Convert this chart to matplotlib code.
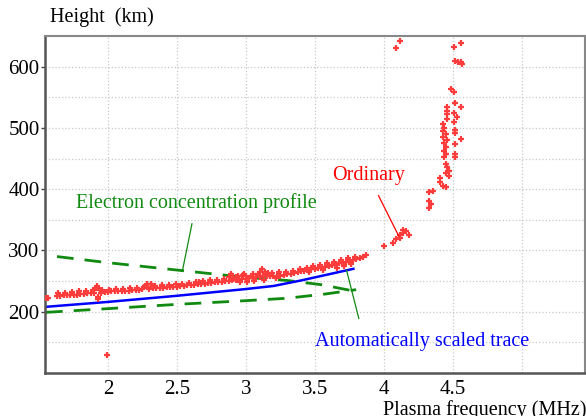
import matplotlib
matplotlib.use("Agg")
import matplotlib.pyplot as plt

plt.rcParams['font.family'] = ['Liberation Serif', 'DejaVu Serif']

# Ordinary trace (red points)
ord_f = [1.550, 1.565,
         1.63, 1.655, 1.68, 1.70, 1.725, 1.75, 1.775, 1.80, 1.825, 1.85, 1.875, 1.90, 1.91, 1.92, 1.925, 1.93, 1.94,
         1.95, 1.975, 2.0, 2.025, 2.05, 2.075, 2.10, 2.125, 2.15, 2.175, 2.20, 2.225, 2.25, 2.27, 2.28, 2.29, 2.30,
         2.31, 2.325, 2.35, 2.375, 2.40, 2.425, 2.45, 2.475, 2.50,
         2.525, 2.55, 2.575, 2.60, 2.625, 2.65, 2.66, 2.675, 2.70, 2.725, 2.75, 2.775, 2.80, 2.825, 2.85, 2.875,
         2.88, 2.89, 2.90, 2.91, 2.925, 2.93, 2.95, 2.96, 2.975, 2.98, 3.0, 3.0, 3.01, 3.025, 3.05, 3.05, 3.06,
         3.075, 3.10, 3.10, 3.12, 3.125, 3.13, 3.15, 3.16, 3.175, 3.20, 3.22, 3.225, 3.25, 3.275, 3.30,
         3.325, 3.35, 3.375, 3.40, 3.425, 3.45, 3.46, 3.475, 3.50, 3.525, 3.55, 3.56, 3.575, 3.60, 3.625, 3.65,
         3.66, 3.675, 3.70, 3.71, 3.725, 3.75, 3.76, 3.775, 3.80, 3.825, 3.85, 3.875,
         4.0, 4.07, 4.09, 4.12, 4.12, 4.14, 4.14, 4.18, 4.16,
         4.33, 4.36, 4.33, 4.34, 4.33,
         4.41, 4.41, 4.43, 4.45, 4.45, 4.46, 4.47, 4.45, 4.47,
         4.44, 4.45, 4.44, 4.43, 4.44, 4.43, 4.45, 4.43, 4.46, 4.44, 4.45,
         4.46, 4.46, 4.46, 4.46,
         4.51, 4.53, 4.51, 4.52, 4.52, 4.52, 4.52, 4.52, 4.56,
         4.49, 4.51, 4.52, 4.56, 4.52, 4.54, 4.56, 4.57, 4.51, 4.56,
         4.09, 4.12,
         1.995]
ord_h = [223, 223,
         226, 226, 227, 227, 227, 228, 228, 229, 229, 230, 231, 231, 238, 242, 224, 221, 235,
         231, 232, 232, 233, 233, 233, 234, 234, 234, 235, 235, 236, 237, 242, 246, 240, 237,
         245, 238, 238, 239, 239, 240, 240, 241, 241,
         242, 242, 243, 243, 244, 245, 249, 245, 246, 247, 247, 248, 249, 249, 250, 250,
         256, 260, 251, 254, 252, 257, 253, 249, 254, 260, 254, 258, 248, 255, 255, 262, 250,
         256, 257, 265, 270, 258, 252, 258, 263, 259, 258, 255, 259, 259, 260, 261,
         262, 263, 265, 266, 267, 268, 264, 269, 270, 271, 272, 268, 273, 274, 276, 277,
         272, 279, 280, 275, 281, 283, 278, 285, 286, 288, 290, 293,
         307, 312, 318, 321, 326, 329, 334, 326, 331,
         395, 397, 381, 376, 370,
         419, 411, 405, 403, 441, 436, 430, 426, 422,
         463, 458, 452, 507, 500, 495, 490, 485, 480, 475, 469,
         534, 528, 522, 515,
         524, 518, 510, 496, 491, 474, 458, 452, 482,
         563, 559, 540, 534, 609, 608, 607, 605, 632, 639,
         631, 641,
         129]

# Second row of the ordinary band (thickness of the trace)
band2_f = [1.64, 1.69, 1.74, 1.79, 1.84, 1.89, 1.96, 2.01, 2.06, 2.11, 2.16, 2.21, 2.26, 2.34, 2.39, 2.44,
           2.49, 2.54, 2.59, 2.64, 2.69, 2.74, 2.79, 2.84, 2.89, 2.94, 2.99, 3.04, 3.09, 3.14, 3.19, 3.24,
           3.29, 3.34, 3.39, 3.44, 3.49, 3.54, 3.59, 3.64, 3.69, 3.74, 3.79]
band2_h = [230, 231, 232, 233, 233, 235, 236, 236, 237, 237, 238, 238, 240, 242, 243, 244,
           245, 246, 247, 248, 250, 251, 252, 253, 262, 258, 262, 259, 261, 264, 263, 264,
           265, 267, 270, 272, 275, 277, 279, 281, 284, 287, 289]

# Automatically scaled trace (blue)
trace_f = [1.55, 2.0, 2.5, 3.0, 3.2, 3.4, 3.6, 3.78]
trace_h = [208, 216, 226, 237, 242, 251, 261, 270]

# Electron concentration profile bounds (green dashed)
upper_f = [1.63, 2.0, 2.5, 3.0, 3.3, 3.55, 3.8]
upper_h = [290, 280, 268, 256, 251, 244, 233]
lower_f = [1.55, 2.0, 2.5, 3.0, 3.3, 3.58, 3.8]
lower_h = [199, 205, 212, 218, 222, 229, 236]

x_ticks = [2, 2.5, 3, 3.5, 4, 4.5, 5]
x_labels = ['2', '2.5', '3', '3.5', '4', '4.5', '']
y_ticks = [200, 300, 400, 500, 600]

fig = plt.figure(figsize=(5.86, 4.16), dpi=100)
ax = fig.add_axes([0.0768, 0.1034, 0.9215, 0.8101])
ax.set_xlim(1.543, 5.46)
ax.set_ylim(100, 650)

ax.set_xticks(x_ticks)
ax.set_xticklabels(x_labels)
ax.set_yticks(y_ticks)
ax.set_yticks([150, 250, 350, 450, 550], minor=True)
ax.grid(True, which='both', color='#c8c8c8', linestyle=':', linewidth=0.9)
ax.set_axisbelow(True)
ax.tick_params(axis='x', length=0, labelsize=15, pad=5)
ax.tick_params(axis='y', length=3, width=1, color='#444444', labelsize=15, pad=1)
ax.tick_params(axis='y', which='minor', length=0)
for s in ['left', 'bottom']:
    ax.spines[s].set_color('#555555')
    ax.spines[s].set_linewidth(1.8)
for s in ['top', 'right']:
    ax.spines[s].set_color('#888888')
    ax.spines[s].set_linewidth(1.5)

ax.plot(upper_f, upper_h, color='#108a10', linestyle=(0, (6, 4)), linewidth=2)
ax.plot(lower_f, lower_h, color='#108a10', linestyle=(0, (6, 4)), linewidth=2)
ax.plot(trace_f, trace_h, color='#0000ff', linewidth=1.8)
ax.scatter(ord_f, ord_h, marker='+', s=16, linewidths=1.6, color='#ff3c3c', zorder=3)
ax.scatter(band2_f, band2_h, marker='+', s=16, linewidths=1.6, color='#ff3c3c', zorder=3)

ax.annotate('Electron concentration profile', xy=(2.54, 267), xytext=(2.64, 378),
            color='#108a10', fontsize=14.5, ha='center', va='center',
            arrowprops=dict(arrowstyle='-', color='#108a10', lw=0.9, shrinkA=6, shrinkB=0))
ax.annotate('Ordinary', xy=(4.11, 323), xytext=(3.89, 422),
            color='#ff0000', fontsize=14.5, ha='center', va='center',
            arrowprops=dict(arrowstyle='-', color='#ff0000', lw=0.9, shrinkA=6, shrinkB=0))
ax.annotate('Automatically scaled trace', xy=(3.73, 268), xytext=(4.28, 151),
            color='#0000ff', fontsize=14.5, ha='center', va='center',
            arrowprops=dict(arrowstyle='-', color='#108a10', lw=0.9, shrinkA=8, shrinkB=0,
                            relpos=(0.22, 1.0)))

fig.text(50 / 586, 1 - 17 / 416, 'Height  (km)', fontsize=14.5, ha='left', va='center')
fig.text(383 / 586, 1 - 410 / 416, 'Plasma frequency (MHz)', fontsize=14.5, ha='left', va='center')

fig.savefig('out.png', dpi=100)
